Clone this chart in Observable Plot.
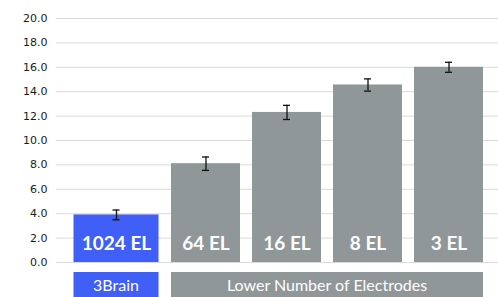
<!DOCTYPE html>
<html><head><meta charset="utf-8">
<script src="https://cdn.jsdelivr.net/npm/d3@7"></script>
<script src="https://cdn.jsdelivr.net/npm/@observablehq/plot@0.6"></script>
<style>
html,body{margin:0;padding:0;background:#fff;}
#chart svg{display:block;}
</style></head><body><div id="chart"></div>
<script>
const categories = ["1024 EL", "64 EL", "16 EL", "8 EL", "3 EL"];
const values = [3.9, 8.1, 12.3, 14.55, 16.0];
const errors = [0.4, 0.55, 0.58, 0.5, 0.41];
const groupOf = ["3Brain", "Lower Number of Electrodes", "Lower Number of Electrodes", "Lower Number of Electrodes", "Lower Number of Electrodes"];
const groups = ["3Brain", "Lower Number of Electrodes"];
const groupColors = ["#3f5ff6", "#8f9799"];
const yTicks = [0, 2, 4, 6, 8, 10, 12, 14, 16, 18, 20];

const data = categories.map((c, i) => ({cat: c, value: values[i], err: errors[i], group: groupOf[i]}));
const main = data.filter(d => d.group === groups[0]);
const rest = data.filter(d => d.group === groups[1]);

const wide = {insetLeft: -16.5, insetRight: 0.5};
const shift = -8.5;

function series(rows, color, extra, dx) {
  return [
    Plot.barY(rows, {x: "cat", y: "value", fill: color, ...extra}),
    Plot.ruleX(rows, {x: "cat", y1: d => d.value - d.err, y2: d => d.value + d.err, stroke: "#111", strokeWidth: 1.3, dx}),
    Plot.tickY(rows, {x: "cat", y: d => d.value + d.err, stroke: "#111", strokeWidth: 1.3, insetLeft: 31, insetRight: 31, dx}),
    Plot.tickY(rows, {x: "cat", y: d => d.value - d.err, stroke: "#111", strokeWidth: 1.3, insetLeft: 31, insetRight: 31, dx}),
    Plot.text(rows, {x: "cat", y: 0, text: "cat", dy: -19, dx, fill: "white", fontWeight: "bold", fontSize: 19, fontFamily: "Lato"})
  ];
}

const plot = Plot.plot({
  width: 498, height: 297,
  marginTop: 18, marginBottom: 35, marginLeft: 76, marginRight: 2,
  style: {fontFamily: "DejaVu Sans", fontSize: "11px", color: "#1a1a1a", background: "#fff"},
  x: {type: "band", domain: categories, padding: 0.153, axis: null},
  y: {domain: [0, 20], ticks: yTicks, tickFormat: d => d.toFixed(1), tickSize: 0, tickPadding: 29, label: null},
  marks: [
    Plot.ruleY(yTicks, {stroke: "#dadada", strokeWidth: 1, insetLeft: -20, insetRight: -2}),
    ...series(main, groupColors[0], wide, shift),
    ...series(rest, groupColors[1], {}, 0)
  ]
});

// group strip below the bars, positioned from Plot's own scales
const xs = plot.scale("x"), ys = plot.scale("y");
const bw = xs.bandwidth;
const svg = d3.select(plot);
const y0 = ys.apply(0) + 10;
const stripBounds = [
  [xs.apply(categories[0]) + wide.insetLeft, xs.apply(categories[0]) + bw - wide.insetRight],
  [xs.apply(categories[1]), xs.apply(categories[categories.length - 1]) + bw]
];
const g = svg.append("g");
groups.forEach((name, i) => {
  const [a, b] = stripBounds[i];
  g.append("rect").attr("x", a).attr("y", y0).attr("width", b - a).attr("height", 297 - y0).attr("fill", groupColors[i]);
  g.append("text").attr("x", (a + b) / 2).attr("y", y0 + 15).attr("text-anchor", "middle").attr("dominant-baseline", "middle")
    .attr("fill", "white").attr("font-family", "Lato").attr("font-size", 16).text(name);
});

document.getElementById("chart").appendChild(plot);
</script></body></html>
